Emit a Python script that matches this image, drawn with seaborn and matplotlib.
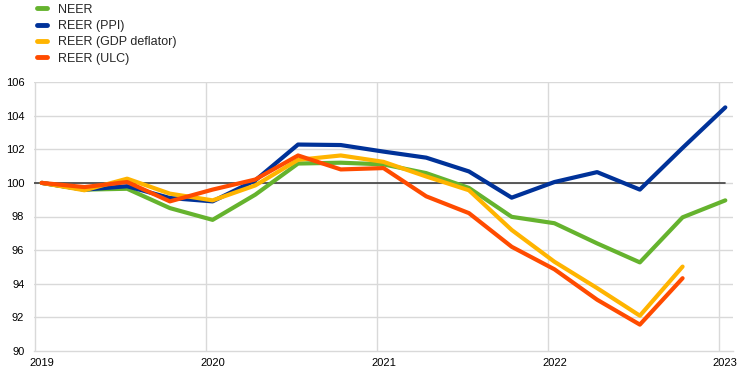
import numpy as np
import pandas as pd
import matplotlib
matplotlib.use("Agg")
import matplotlib.pyplot as plt
import seaborn as sns
from matplotlib.lines import Line2D

quarters = list(range(17))  # 2019Q1 .. 2023Q1
year_labels = ["2019", "2020", "2021", "2022", "2023"]
year_ticks = [0, 4, 8, 12, 16]

neer = [100.0, 99.6, 99.65, 98.5, 97.8, 99.3, 101.15, 101.2, 101.1, 100.58, 99.7, 97.98, 97.6, 96.4, 95.27, 97.95, 98.96]
reer_ppi = [100.0, 99.6, 99.8, 99.1, 98.9, 100.15, 102.28, 102.25, 101.86, 101.5, 100.68, 99.12, 100.05, 100.64, 99.6, 102.08, 104.49]
reer_gdp = [100.0, 99.56, 100.25, 99.36, 98.96, 99.85, 101.37, 101.63, 101.25, 100.38, 99.56, 97.2, 95.31, 93.74, 92.1, 95.02, None]
reer_ulc = [100.0, 99.75, 100.05, 98.9, 99.6, 100.2, 101.63, 100.8, 100.88, 99.2, 98.2, 96.2, 94.86, 93.05, 91.57, 94.33, None]

series_names = ["NEER", "REER (PPI)", "REER (GDP deflator)", "REER (ULC)"]
colors = ["#65B32E", "#003299", "#FFB400", "#FF4B00"]

rows = []
for name, vals in zip(series_names, [neer, reer_ppi, reer_gdp, reer_ulc]):
    for q, v in zip(quarters, vals):
        if v is not None:
            rows.append({"q": q, "value": v, "series": name})
df = pd.DataFrame(rows)

sns.set_style("white")
plt.rcParams["font.family"] = ["Liberation Sans", "DejaVu Sans"]

fig = plt.figure(figsize=(7.44, 3.77), dpi=100)
ax = fig.add_axes([34 / 744, 26 / 377, 699 / 744, 269 / 377])

xmin, xmax = -0.18, 16.18

# grid
for k in range(5):
    ax.axvline(year_ticks[k] - 0.15, color="#D9D9D9", lw=1.0, zorder=0)
for yv in range(92, 107, 2):
    ax.axhline(yv, color="#D9D9D9", lw=1.0, zorder=0)
ax.plot([xmin, quarters[-1]], [100, 100], color="#404040", lw=1.2, zorder=1)

sns.lineplot(data=df, x="q", y="value", hue="series", hue_order=series_names,
             palette=colors, linewidth=3.0, ax=ax, legend=False, zorder=3)

ax.set_xlim(xmin, xmax)
ax.set_ylim(90, 106)
ax.set_yticks(range(90, 107, 2))
ax.set_xticks(year_ticks)
ax.set_xticklabels(year_labels)
ax.set_xlabel("")
ax.set_ylabel("")
for s in ["top", "right", "left"]:
    ax.spines[s].set_visible(False)
ax.spines["bottom"].set_color("#D9D9D9")
ax.spines["bottom"].set_linewidth(1.0)
ax.tick_params(axis="both", length=0, labelsize=8, colors="#000000")
ax.tick_params(axis="y", pad=7)
ax.tick_params(axis="x", pad=5)

handles = [Line2D([0], [0], color=c, lw=3.5) for c in colors]
fig.legend(handles, series_names, loc="upper left", bbox_to_anchor=(29 / 744, 1.01),
           frameon=False, fontsize=9, handlelength=0.8, handletextpad=0.9,
           labelspacing=0.35, borderaxespad=0.2)

fig.savefig("out.png", dpi=100)
